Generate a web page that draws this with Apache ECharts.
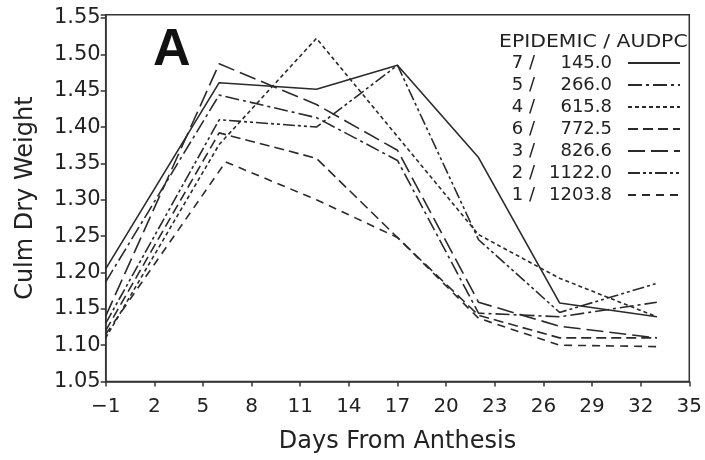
<!DOCTYPE html>
<html>
<head>
<meta charset="utf-8">
<script src="https://cdn.jsdelivr.net/npm/echarts@6/dist/echarts.min.js"></script>
<style>html,body{margin:0;padding:0;background:#fff}#c{width:705px;height:460px}</style>
</head>
<body>
<div id="c"></div>
<script>
// Days from anthesis (sampling dates)
const days = [-1, 6, 12, 17, 22, 27, 33];
const days1 = [-1, 6.4, 12, 17, 22, 27, 33];
// Series labels (epidemic / AUDPC)
const labels = ['7 / 145.0', '5 / 266.0', '4 / 615.8', '6 / 772.5', '3 / 826.6', '2 / 1122.0', '1 / 1203.8'];
// Culm dry weight values
const ep7 = [1.205, 1.461, 1.452, 1.485, 1.358, 1.158, 1.139];
const ep5 = [1.187, 1.444, 1.413, 1.354, 1.144, 1.139, 1.159];
const ep4 = [1.110, 1.376, 1.522, 1.387, 1.252, 1.192, 1.139];
const ep6 = [1.120, 1.392, 1.357, 1.248, 1.141, 1.110, 1.110];
const ep3 = [1.140, 1.487, 1.431, 1.368, 1.159, 1.126, 1.110];
const ep2 = [1.130, 1.410, 1.400, 1.485, 1.245, 1.145, 1.185];
const ep1 = [1.115, 1.352, 1.300, 1.248, 1.137, 1.100, 1.098];
// Axis ticks
const xTicks = {min: -1, max: 35, step: 3};
const yTicks = {min: 1.05, max: 1.55, step: 0.05};

const seriesValues = [ep7, ep5, ep4, ep6, ep3, ep2, ep1];
const seriesDays = [days, days, days, days, days, days, days1];
const dashes = ['solid', [14,4,3,4], [4,3], [10,5], [17,6], [12,3,3,3,3,3], [8,6]];
const col = '#2a2a2a';
const font = 'DejaVu Sans';

const chart = echarts.init(document.getElementById('c'));
chart.setOption({
  animation: false,
  backgroundColor: '#fff',
  title: [
    {text: 'A', left: 148, top: 20, textStyle: {fontFamily: 'Liberation Sans', fontWeight: 'bold', fontSize: 52, color: '#111'}}
  ],
  graphic: [
    {type: 'text', x: 499, y: 34, scaleX: 1.2, silent: true,
     style: {text: 'EPIDEMIC / AUDPC', font: '17px "DejaVu Sans"', fill: '#222'}}
  ],
  grid: {left: 105.7, right: 13.5, top: 14.8, bottom: 78.5, show: true, borderColor: '#333', borderWidth: 1.5, backgroundColor: 'transparent'},
  legend: {
    orient: 'vertical', left: 494, top: 48, align: 'right',
    itemWidth: 52, itemHeight: 14, itemGap: 2,
    data: labels,
    itemStyle: {opacity: 0},
    formatter: function (n) { const p = n.split(' / '); return '{a|' + p[0] + ' /}{b|' + p[1] + '}{c|}'; },
    textStyle: {fontFamily: font, fontSize: 18, color: '#222', lineHeight: 20,
      rich: {a: {fontFamily: font, fontSize: 18, color: '#222', width: 36},
             b: {fontFamily: font, fontSize: 18, color: '#222', width: 77, align: 'right'},
             c: {width: 11}}}
  },
  xAxis: {
    type: 'value', min: xTicks.min, max: xTicks.max, interval: xTicks.step,
    name: 'Days From Anthesis', nameLocation: 'middle', nameGap: 48,
    nameTextStyle: {fontFamily: font, fontSize: 24, color: '#222'},
    axisLine: {onZero: false, lineStyle: {color: '#333', width: 1.5}},
    axisTick: {show: true, inside: false, length: 5, lineStyle: {color: '#333', width: 1.5}},
    axisLabel: {fontFamily: font, fontSize: 20, color: '#222', margin: 15,
      formatter: v => (v < 0 ? '\u2212' + Math.abs(v) : String(v))},
    splitLine: {show: false}
  },
  yAxis: {
    type: 'value', min: yTicks.min, max: 1.5544, interval: yTicks.step,
    name: 'Culm Dry Weight', nameLocation: 'middle', nameGap: 68,
    nameTextStyle: {fontFamily: font, fontSize: 24, color: '#222'},
    axisLine: {show: true, onZero: false, lineStyle: {color: '#333', width: 1.5}},
    axisTick: {show: true, inside: false, length: 5, lineStyle: {color: '#333', width: 1.5}},
    axisLabel: {fontFamily: font, fontSize: 21, color: '#222', margin: 5,
      formatter: v => (Math.abs(v * 20 - Math.round(v * 20)) < 1e-6 ? v.toFixed(2) : '')},
    splitLine: {show: false}
  },
  series: labels.map((name, i) => ({
    name: name, type: 'line', symbol: 'none', silent: true,
    data: seriesDays[i].map((d, j) => [d, seriesValues[i][j]]),
    lineStyle: {color: col, width: 1.6, type: dashes[i]},
    itemStyle: {color: col}
  }))
});
</script>
</body>
</html>
